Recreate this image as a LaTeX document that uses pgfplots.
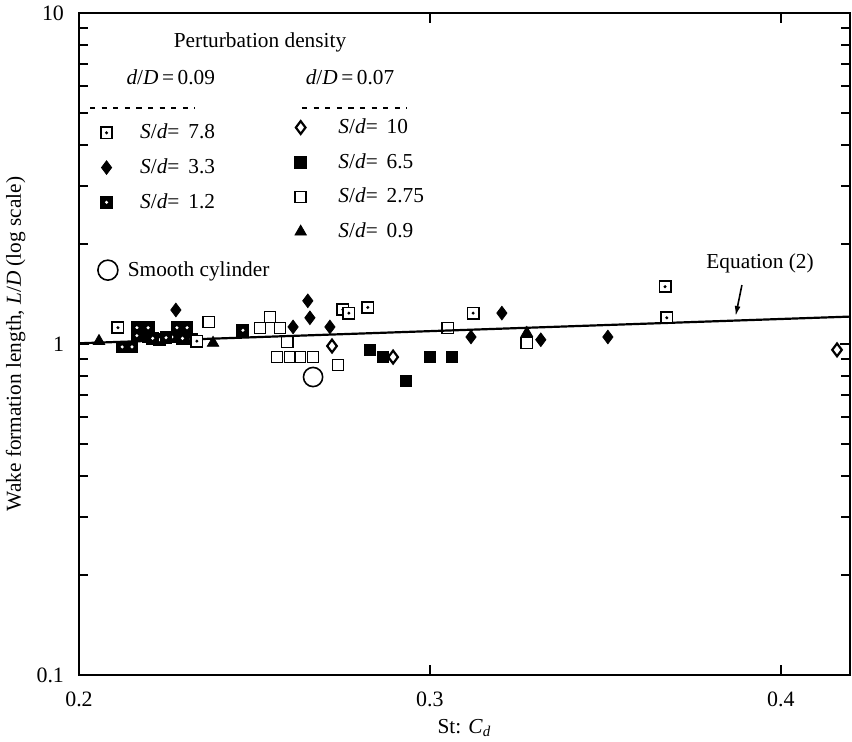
\documentclass[border=0pt]{standalone}
\usepackage{fontspec}
\setmainfont{Liberation Serif}
\usepackage{pgfplots}
\pgfplotsset{compat=1.18}
\usetikzlibrary{arrows.meta}
\pgfdeclareplotmark{sqdot}{%
  \pgfpathrectangle{\pgfqpoint{-\pgfplotmarksize}{-\pgfplotmarksize}}{\pgfqpoint{2\pgfplotmarksize}{2\pgfplotmarksize}}%
  \pgfsetfillcolor{white}\pgfusepathqfillstroke
  \pgfpathcircle{\pgfpointorigin}{0.3\pgfplotmarksize}%
  \pgfsetfillcolor{black}\pgfusepathqfill}
\pgfdeclareplotmark{sqwdot}{%
  \pgfpathrectangle{\pgfqpoint{-\pgfplotmarksize}{-\pgfplotmarksize}}{\pgfqpoint{2\pgfplotmarksize}{2\pgfplotmarksize}}%
  \pgfsetfillcolor{black}\pgfusepathqfillstroke
  \pgfpathcircle{\pgfpointorigin}{0.3\pgfplotmarksize}%
  \pgfsetfillcolor{white}\pgfusepathqfill}
\pgfplotsset{
  sA/.style={only marks, mark=sqdot, mark size=2.8bp, mark options={line width=0.9bp, draw=black}},
  sB/.style={only marks, mark=diamond*, mark size=3.4bp, mark options={fill=black, draw=black}},
  sC/.style={only marks, mark=sqwdot, mark size=2.8bp, mark options={line width=0.8bp, draw=black}},
  sD/.style={only marks, mark=diamond, mark size=3.2bp, mark options={line width=1.1bp, draw=black, fill=white}},
  sE/.style={only marks, mark=square*, mark size=2.9bp, mark options={fill=black, draw=black}},
  sF/.style={only marks, mark=square, mark size=2.8bp, mark options={line width=0.8bp, draw=black, fill=white}},
  sG/.style={only marks, mark=triangle*, mark size=3.3bp, mark options={fill=black, draw=black}},
  sH/.style={only marks, mark=o, mark size=4.8bp, mark options={line width=0.8bp, draw=black, fill=white}},
  ovl/.style={width=385.5bp, height=331bp, scale only axis, hide axis, xmin=0, xmax=1, ymin=0, ymax=1,
    legend image code/.code={\draw[##1] plot coordinates {(0bp,0bp)};},
    legend style={draw=none, fill=none, font=\fontsize{10.7}{12}\selectfont, anchor=north west,
      row sep=2.5bp, column sep=0pt, inner sep=0pt, outer sep=0pt,
      nodes={inner xsep=0pt, inner ysep=3pt},
      /tikz/column 2/.style={column sep=0pt}},
    legend cell align=left},
}
\begin{document}
\begin{tikzpicture}
\begin{axis}[
  width=385.5bp, height=331bp, scale only axis,
  xmin=0.2, xmax=0.4197, ymode=log, ymin=0.1, ymax=10,
  xtick={0.2,0.3,0.4}, xticklabels={0.2,0.3,0.4},
  ytick={0.1,1,10}, yticklabels={0.1,1,10},
  minor ytick={0.2,0.3,0.4,0.5,0.6,0.7,0.8,0.9,2,3,4,5,6,7,8,9},
  /pgf/number format/assume math mode=true,
  tick align=inside, major tick length=5bp, minor tick length=4.5bp,
  every tick/.style={line width=1bp, black},
  axis line style={line width=1.3bp},
  ticklabel style={font=\fontsize{11}{12}\selectfont},
  xticklabel style={yshift=-5bp},
  yticklabel style={xshift=-4bp},
  label style={font=\fontsize{10.7}{12}\selectfont},
  xlabel={St: \textit{C}\textsubscript{\textit{d}}},
  xlabel style={at={(axis description cs:0.5,-0.08)}, anchor=center},
  ylabel={Wake formation length, \textit{L}/\textit{D} (log scale)},
  ylabel style={at={(axis description cs:-0.082,0.5)}, anchor=center},
  clip=false,
]
% Equation (2)
\addplot[black, line width=1.1bp] coordinates {(0.2,1.005) (0.4197,1.21)};
% S/d = 2.75 (open square)
\addplot[sF] coordinates {
(0.2370,1.166) (0.2516,1.118) (0.2544,1.207) (0.2573,1.118) (0.2593,1.014)
(0.2564,0.913) (0.2601,0.913) (0.2630,0.913) (0.2667,0.913) (0.2738,0.864)
(0.3051,1.118) (0.3276,1.007)};
% S/d = 1.2 (black square with white dot)
\addplot[sC] coordinates {
(0.2165,1.12) (0.2197,1.12) (0.2165,1.06) (0.2197,1.05) (0.2123,0.98)
(0.2151,0.98) (0.2279,1.12) (0.2308,1.12) (0.2265,1.05) (0.2295,1.04)
(0.2230,1.03) (0.2210,1.04) (0.2248,1.045) (0.2320,1.035) (0.2467,1.10)};
% S/d = 7.8 (open square with dot)
\addplot[sA] coordinates {
(0.2111,1.12) (0.2336,1.02) (0.2752,1.27) (0.2769,1.24) (0.2823,1.29)
(0.3123,1.24) (0.3670,1.49) (0.3675,1.20)};
% S/d = 3.3 (filled diamond)
\addplot[sB] coordinates {
(0.2276,1.267) (0.2652,1.35) (0.2658,1.20) (0.2610,1.126) (0.2715,1.126)
(0.3117,1.05) (0.3205,1.24) (0.3316,1.03) (0.3507,1.05)};
% S/d = 10 (open diamond)
\addplot[sD] coordinates {(0.2721,0.986) (0.2895,0.913) (0.4160,0.96)};
% S/d = 6.5 (filled square)
\addplot[sE] coordinates {(0.2829,0.959) (0.2866,0.913) (0.3000,0.913) (0.3063,0.913) (0.2932,0.773)};
% S/d = 0.9 (filled triangle)
\addplot[sG] coordinates {(0.2057,1.02) (0.2382,1.007) (0.3276,1.079)};
% Smooth cylinder
\addplot[sH] coordinates {(0.2667,0.795)};
% annotations
\node[font=\fontsize{10.7}{12}\selectfont] at (axis description cs:0.2348,0.955) {Perturbation density};
\node[font=\fontsize{10.7}{12}\selectfont] at (axis description cs:0.119,0.903) {\textit{d}/\textit{D}\,=\,0.09};
\node[font=\fontsize{10.7}{12}\selectfont] at (axis description cs:0.3515,0.903) {\textit{d}/\textit{D}\,=\,0.07};
\draw[line width=0.9bp, dash pattern=on 2.6bp off 3.2bp] (axis description cs:0.0143,0.8565) -- (axis description cs:0.1505,0.8565);
\draw[line width=0.9bp, dash pattern=on 2.6bp off 3.2bp] (axis description cs:0.2892,0.8565) -- (axis description cs:0.4254,0.8565);
\node[font=\fontsize{10.7}{12}\selectfont] at (axis description cs:0.8833,0.6224) {Equation (2)};
\draw[-{Latex[length=5bp,width=3bp]}, line width=0.8bp] (axis cs:0.3889,1.507) -- (axis cs:0.3871,1.215);
\end{axis}
% left legend column
\begin{axis}[ovl, legend style={at={(axis description cs:0.0285,0.8414)}, /tikz/column 1/.style={column sep=14bp}}]
\addlegendimage{sA}\addlegendentry{\textit{S}/\textit{d}= \,7.8}
\addlegendimage{sB}\addlegendentry{\textit{S}/\textit{d}= \,3.3}
\addlegendimage{sC}\addlegendentry{\textit{S}/\textit{d}= \,1.2}
\end{axis}
% right legend column
\begin{axis}[ovl, legend style={at={(axis description cs:0.280,0.8494)}, /tikz/column 1/.style={column sep=16bp}}]
\addlegendimage{sD}\addlegendentry{\textit{S}/\textit{d}= \,10}
\addlegendimage{sE}\addlegendentry{\textit{S}/\textit{d}= \,6.5}
\addlegendimage{sF}\addlegendentry{\textit{S}/\textit{d}= \,2.75}
\addlegendimage{sG}\addlegendentry{\textit{S}/\textit{d}= \,0.9}
\end{axis}
% smooth cylinder
\begin{axis}[ovl, legend style={at={(axis description cs:0.0245,0.634)}, /tikz/column 1/.style={column sep=5bp}}]
\addlegendimage{sH, mark size=5bp}\addlegendentry{Smooth cylinder}
\end{axis}
\pgfresetboundingbox
\path ([shift={(-39.5bp,-33.5bp)}]current axis.south west) rectangle ([shift={(1bp,6.5bp)}]current axis.north east);
\end{tikzpicture}
\end{document}
